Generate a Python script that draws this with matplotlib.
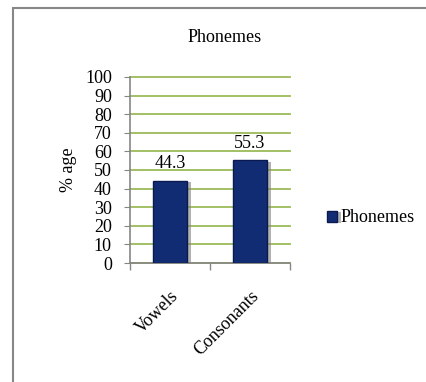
import matplotlib.pyplot as plt
import matplotlib.patheffects as pe
from matplotlib.patches import Rectangle

# chart data
categories = ['Vowels', 'Consonants']
values = [44.3, 55.3]
series_name = 'Phonemes'
y_ticks = list(range(0, 101, 10))

plt.rcParams['font.family'] = ['Liberation Serif', 'DejaVu Serif']

fig = plt.figure(figsize=(4.26, 3.82), dpi=100)
ax = fig.add_axes([0.305, 0.3115, 0.376, 0.487])

# outer border of the chart area (runs off the right and bottom edge)
fig.patches.append(Rectangle((13 / 426, -0.05), 1.2, 1 - 8 / 382 + 0.05,
                             transform=fig.transFigure, fill=False,
                             edgecolor='#878787', linewidth=1.5))

x = range(len(categories))
bars = ax.bar(x, values, width=0.43, color='#122c74', edgecolor='#0a1a50',
              linewidth=1.0, label=series_name, zorder=3)
for b in bars:
    b.set_path_effects([pe.SimplePatchShadow(offset=(2.5, -1), shadow_rgbFace='#808080', alpha=0.6),
                        pe.Normal()])

for xi, v in zip(x, values):
    ax.text(xi, v + 4.5, f'{v:.1f}', ha='center', va='bottom', fontsize=13)

ax.set_xlim(-0.5, len(categories) - 0.5)
ax.set_ylim(0, 100)
ax.set_yticks(y_ticks)
ax.tick_params(axis='y', labelsize=13, length=4, color='#868686', pad=9)
ax.yaxis.grid(True, color='#9bbb59', linewidth=1.3, zorder=0)
for gl in ax.yaxis.get_gridlines():
    gl.set_clip_on(False)
ax.set_axisbelow(True)

ax.set_xticks(list(x))
ax.set_xticklabels(categories, rotation=45, ha='right', va='top',
                   rotation_mode='anchor', fontsize=13)
ax.tick_params(axis='x', which='major', length=0, pad=18)
ax.set_xticks([i - 0.5 for i in range(len(categories) + 1)], minor=True)
ax.tick_params(axis='x', which='minor', length=5, color='#868686', width=1.0)

for s in ['top', 'right']:
    ax.spines[s].set_visible(False)
for s in ['left', 'bottom']:
    ax.spines[s].set_color('#868686')
    ax.spines[s].set_linewidth(1.2)

ax.set_ylabel('% age', fontsize=13, labelpad=6)
fig.text(225 / 426, 1 - 38 / 382, 'Phonemes', ha='center', va='center', fontsize=13)

fig.legend(handles=[bars], labels=[series_name], loc='center left',
           bbox_to_anchor=(311 / 426, 1 - 218 / 382), frameon=False,
           fontsize=13, handlelength=0.55, handleheight=0.55, handletextpad=0.2)

fig.savefig('out.png', dpi=100)
